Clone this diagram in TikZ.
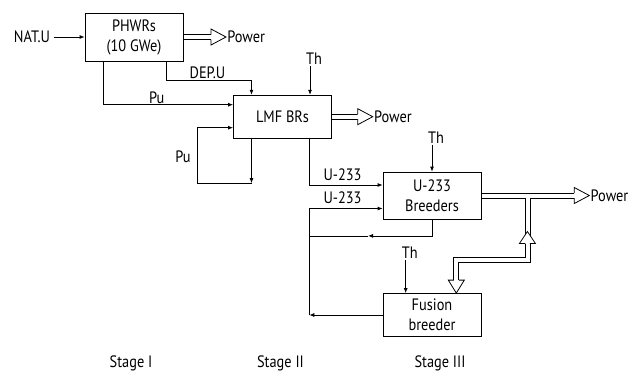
\documentclass[tikz,border=0pt]{standalone}
\usepackage{fontspec}
\setmainfont{PT Sans}[FakeStretch=0.87]
\usetikzlibrary{arrows.meta, calc}

\begin{document}
\begin{tikzpicture}[x=1pt, y=-1pt, line width=0.8pt,
  font=\fontsize{16.5}{20}\selectfont,
  unit/.style={draw, align=center, inner sep=0pt, minimum width=98pt},
  flow/.style={-{Latex[length=5pt,width=4pt]}}]

\useasboundingbox (0,0) rectangle (634,381);

% Reactor boxes
\node[unit, minimum height=48pt] (PHWR) at (134,37) {PHWRs\\(10 GWe)};
\node[unit, minimum height=43pt] (LMF) at (282.5,116.7) {LMF BRs};
\node[unit, minimum height=47pt] (U233) at (432,195.5) {U-233\\Breeders};
\node[unit, minimum height=43pt] (Fusion) at (432,315) {Fusion\\breeder};

% Feed labels
\node (natu) at (32,37) {NAT.U};
\node (depu) at (207.5,72.7) {DEP.U};
\node (puA) at (156.7,97.7) {Pu};
\node (puB) at (183,156.7) {Pu};
\node (uA) at (342.5,174.5) {U-233};
\node (uB) at (342.5,198) {U-233};

% Thorium feeds
\coordinate (thA) at ($(LMF.north)+(27.5,-29)$);
\coordinate (thB) at ($(U233.north)+(0,-27)$);
\coordinate (thC) at ($(Fusion.north)+(-26.3,-33)$);
\foreach \c/\n in {thA/th1, thB/th2, thC/th3} {
  \node[anchor=south, inner sep=1pt] (\n) at ($(\c)+(4,0)$) {Th};
}
\draw[flow] (thA) -- (thA |- LMF.north);
\draw[flow] (thB) -- (U233.north);
\draw[flow] (thC) -- (thC |- Fusion.north);

% Stage I
\draw[flow] (natu) -- (natu -| PHWR.west);
\coordinate (dep) at ($(LMF.north)+(-31,-14.5)$);
\draw[flow] ($(PHWR.south)+(32,0)$) |- (dep) -- (dep |- LMF.north);
\draw[flow] ($(PHWR.south)+(-31,0)$) |- ($(LMF.west)+(0,-12)$);

% Stage II, Pu recycle
\coordinate (puL) at ($(LMF.south)+(-31,44.5)$);
\draw[flow] (LMF.south -| puL) -- (puL);
\draw[flow] (puL) -- ++(-54,0) |- ($(LMF.west)+(0,11)$);
\draw[flow] ($(LMF.south)+(27,0)$) |- ($(U233.west)+(0,-10.5)$);

% Stage III, U-233 recycle
\coordinate (ret) at ($(U233.south)+(-122.7,16.5)$);
\draw[flow] (U233.south) |- ($(U233.south)+(-64,16.5)$);
\draw ($(U233.south)+(-64,16.5)$) -- (ret);
\draw[flow] (Fusion.west) -- (Fusion.west -| ret);
\draw[flow] (Fusion.west -| ret) |- ($(U233.west)+(0,13)$);

% Power outputs (pairs of lines, hollow heads)
\node[anchor=west, inner sep=1pt] (pw1) at (226,37) {Power};
\node[anchor=west, inner sep=1pt] (pw2) at (372.7,116.7) {Power};
\node[anchor=west, inner sep=1pt] (pw3) at (589.3,195.5) {Power};
\foreach \a/\b in {PHWR/pw1, LMF/pw2} {
  \draw ($(\a.east)+(0,-2.5)$) -- ($(\b.west)+(-15,-2.5)$);
  \draw ($(\a.east)+(0,2.5)$) -- ($(\b.west)+(-15,2.5)$);
}

% Power share to the fusion breeder
\coordinate (tap) at ($(U233.east)+(46,0)$);
\coordinate (feed) at ($(Fusion.north)+(24.3,0)$);
\draw ($(U233.east)+(0,-2.5)$) -- ($(pw3.west)+(-15,-2.5)$);
\draw ($(U233.east)+(0,2.5)$) -- ($(tap)+(-2.5,2.5)$) -- ++(0,59)
  -| ($(feed)+(-2.5,-13)$);
\draw ($(pw3.west)+(-15,2.5)$) -- ($(tap)+(2.5,2.5)$) -- ++(0,64)
  -| ($(feed)+(2.5,-13)$);

% Hollow heads
\foreach \b in {pw1, pw2, pw3} {
  \draw[fill=white] ($(\b.west)+(-15,-2.5)$) -- ++(0,-5.5) -- (\b.west)
    -- ($(\b.west)+(-15,8)$) -- ++(0,-5.5);
}
\draw[fill=white] ($(tap)+(-2.5,48)$) -- ++(-5.5,0) -- ($(tap)+(0,36)$)
  -- ($(tap)+(8,48)$) -- ++(-5.5,0);
\draw[fill=white] ($(feed)+(-2.5,-13)$) -- ++(-5.5,0) -- (feed)
  -- ($(feed)+(8,-13)$) -- ++(-5.5,0);

% Stages
\node (st1) at (131,363) {Stage I};
\node (st2) at (280.5,363) {Stage II};
\node (st3) at (440,363) {Stage III};

\end{tikzpicture}
\end{document}
